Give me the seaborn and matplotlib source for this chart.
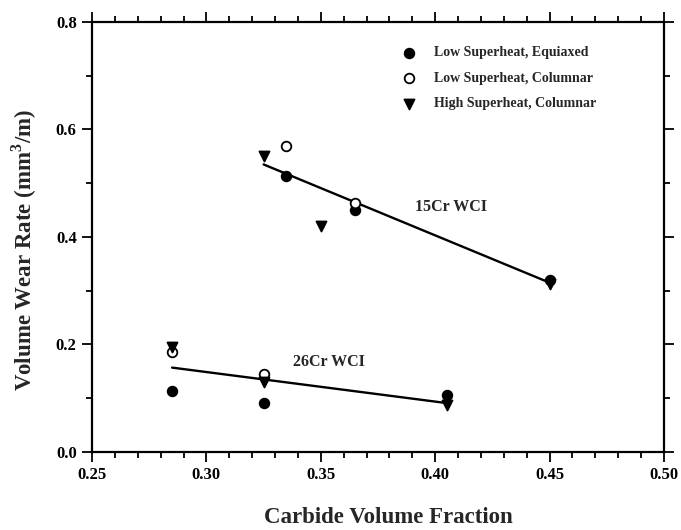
import numpy as np
import pandas as pd
import matplotlib
matplotlib.use("Agg")
import matplotlib.pyplot as plt
from matplotlib.ticker import MultipleLocator, FormatStrFormatter
import seaborn as sns

# Measured wear data: carbide volume fraction vs volume wear rate (mm^3/m)
low_eq_x = [0.285, 0.325, 0.405, 0.335, 0.365, 0.450]
low_eq_y = [0.113, 0.092, 0.106, 0.514, 0.450, 0.320]

low_col_x = [0.285, 0.325, 0.335, 0.365]
low_col_y = [0.186, 0.146, 0.569, 0.463]

high_col_x = [0.285, 0.325, 0.405, 0.325, 0.350, 0.450]
high_col_y = [0.196, 0.130, 0.087, 0.551, 0.421, 0.312]

# Trend lines for the two alloys
fit15_x = [0.325, 0.450]
fit15_y = [0.535, 0.315]
fit26_x = [0.285, 0.405]
fit26_y = [0.157, 0.091]

series_names = ["Low Superheat, Equiaxed", "Low Superheat, Columnar",
                "High Superheat, Columnar"]

df = pd.concat([
    pd.DataFrame({"cvf": low_eq_x, "wear": low_eq_y, "cond": series_names[0]}),
    pd.DataFrame({"cvf": low_col_x, "wear": low_col_y, "cond": series_names[1]}),
    pd.DataFrame({"cvf": high_col_x, "wear": high_col_y, "cond": series_names[2]}),
], ignore_index=True)

sns.set_theme(style="ticks")
plt.rcParams["font.family"] = ["Liberation Serif", "DejaVu Serif"]
plt.rcParams["font.weight"] = "bold"
plt.rcParams["mathtext.fontset"] = "custom"
plt.rcParams["mathtext.rm"] = "Liberation Serif:bold"
plt.rcParams["mathtext.bf"] = "Liberation Serif:bold"

fig = plt.figure(figsize=(6.81, 5.30), dpi=100)
ax = fig.add_axes([0.1351, 0.1472, 0.8399, 0.8113])

# fitted lines
sns.lineplot(x=fit15_x, y=fit15_y, ax=ax, color="black", lw=1.7, zorder=2)
sns.lineplot(x=fit26_x, y=fit26_y, ax=ax, color="black", lw=1.7, zorder=2)

styles = {
    series_names[0]: dict(marker="o", facecolor="black", edgecolor="black", s=48),
    series_names[1]: dict(marker="o", facecolor="white", edgecolor="black", s=48),
    series_names[2]: dict(marker="v", facecolor="black", edgecolor="black", s=52),
}
for name in series_names:
    st = styles[name]
    sub = df[df["cond"] == name]
    sns.scatterplot(data=sub, x="cvf", y="wear", ax=ax, marker=st["marker"],
                    s=st["s"], color=st["facecolor"], edgecolor=st["edgecolor"],
                    linewidth=1.3, label=name, zorder=3)

ax.set_xlim(0.25, 0.50)
ax.set_ylim(0.0, 0.8)
ax.xaxis.set_major_locator(MultipleLocator(0.05))
ax.xaxis.set_minor_locator(MultipleLocator(0.01))
ax.yaxis.set_major_locator(MultipleLocator(0.2))
ax.yaxis.set_minor_locator(MultipleLocator(0.1))
ax.xaxis.set_major_formatter(FormatStrFormatter("%.2f"))
ax.yaxis.set_major_formatter(FormatStrFormatter("%.1f"))

ax.tick_params(which="both", direction="out", top=True, right=True,
               bottom=True, left=True, width=1.3, colors="black")
ax.tick_params(which="major", length=7, labelsize=12, pad=4)
ax.tick_params(which="minor", length=4)
for lbl in ax.get_xticklabels() + ax.get_yticklabels():
    lbl.set_fontweight("bold")
for sp in ax.spines.values():
    sp.set_visible(True)
    sp.set_linewidth(1.6)
    sp.set_color("black")

ax.set_xlabel("Carbide Volume Fraction", fontsize=16.5, fontweight="bold")
ax.set_ylabel(r"Volume Wear Rate (mm$^3$/m)", fontsize=16.5, fontweight="bold")
ax.xaxis.set_label_coords(0.519, -0.128)
ax.yaxis.set_label_coords(-0.092, 0.47)

ax.text(0.391, 0.456, "15Cr WCI", fontsize=11.5, fontweight="bold", va="center", ha="left")
ax.text(0.338, 0.167, "26Cr WCI", fontsize=11.5, fontweight="bold", va="center", ha="left")

leg = ax.legend(loc="upper left", bbox_to_anchor=(0.52, 0.9565), frameon=False,
                prop={"size": 10, "weight": "bold"}, handletextpad=0.8,
                labelspacing=0.9, borderaxespad=0)

fig.savefig("out.png", dpi=100)
